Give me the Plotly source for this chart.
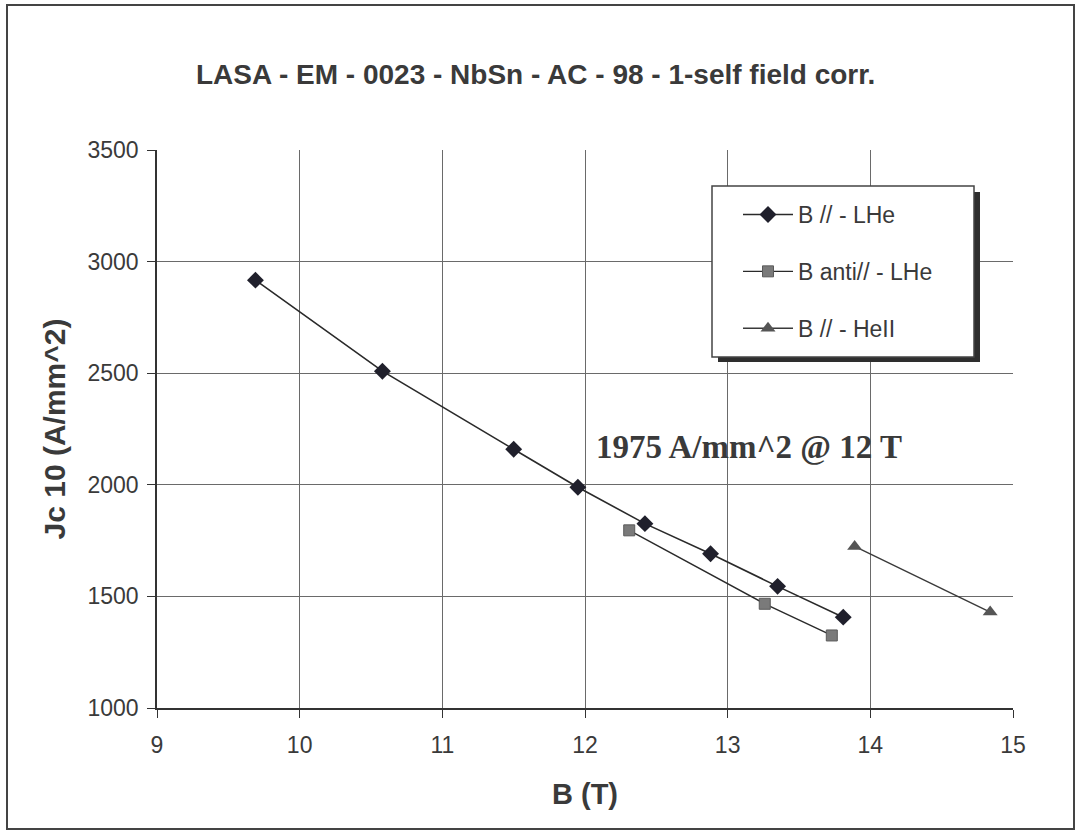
import plotly.graph_objects as go

# Critical current density vs applied field
b_par_lhe = [9.69, 10.58, 11.50, 11.95, 12.42, 12.88, 13.35, 13.81]
jc_par_lhe = [2917, 2509, 2159, 1989, 1826, 1691, 1545, 1407]

b_anti_lhe = [12.31, 13.26, 13.73]
jc_anti_lhe = [1796, 1467, 1325]

b_par_heii = [13.89, 14.84]
jc_par_heii = [1724, 1430]

x_ticks = [9, 10, 11, 12, 13, 14, 15]
y_ticks = [1000, 1500, 2000, 2500, 3000, 3500]

W, H = 1077, 836
L, R, T, B = 157, 64, 150, 128
pw, ph = W - L - R, H - T - B


def px(x):
    return (x - L) / pw


def py(y):
    return (H - B - y) / ph


SANS = "Liberation Sans, Arial, sans-serif"
INK = "#3a3a3a"

fig = go.Figure()
fig.add_trace(go.Scatter(
    x=b_par_lhe, y=jc_par_lhe, mode="lines+markers", name="B // - LHe",
    legendgroup="a",
    line=dict(color="#2a2a2a", width=1.6),
    marker=dict(symbol="diamond", size=13, color="#20202c"),
))
fig.add_trace(go.Scatter(
    x=b_anti_lhe, y=jc_anti_lhe, mode="lines+markers", name="B anti// - LHe",
    legendgroup="b",
    line=dict(color="#2a2a2a", width=1.4),
    marker=dict(symbol="square", size=11, color="#7a7a7a",
                line=dict(color="#5a5a5a", width=1)),
))
fig.add_trace(go.Scatter(
    x=b_par_heii, y=jc_par_heii, mode="lines+markers", name="B // - HeII",
    legendgroup="c",
    line=dict(color="#3a3a3a", width=1.4),
    marker=dict(symbol="triangle-up", size=13, color="#555555"),
))

axis_font = dict(family=SANS, size=23, color=INK)

fig.update_xaxes(
    range=[9, 15], tickvals=x_ticks, showgrid=True, gridcolor="#6a6a6a", gridwidth=1,
    zeroline=False, showline=True, linecolor="#333333", linewidth=1.5,
    ticks="outside", ticklen=8, tickcolor="#333333", tickfont=axis_font,
    ticklabelstandoff=8,
    title=dict(text="<b>B (T)</b>", font=dict(family=SANS, size=29, color=INK), standoff=26),
)
fig.update_yaxes(
    range=[1000, 3500], tickvals=y_ticks, showgrid=True, gridcolor="#6a6a6a", gridwidth=1,
    zeroline=False, showline=True, linecolor="#333333", linewidth=1.5,
    ticks="outside", ticklen=8, tickcolor="#333333", tickfont=axis_font,
    ticklabelstandoff=4,
    title=dict(text="<b>Jc 10 (A/mm^2)</b>", font=dict(family=SANS, size=30, color=INK), standoff=13),
)

shapes = [
    # outer frame
    dict(type="rect", xref="paper", yref="paper", x0=px(7), x1=px(1074), y0=py(829), y1=py(5),
         line=dict(color="#444444", width=2), fillcolor="rgba(0,0,0,0)", layer="below"),
    # legend drop shadow
    dict(type="rect", xref="paper", yref="paper", x0=px(718), x1=px(980), y0=py(362), y1=py(192),
         line=dict(width=0), fillcolor="#2e2e2e", layer="above"),
    # legend box
    dict(type="rect", xref="paper", yref="paper", x0=px(712), x1=px(974), y0=py(357), y1=py(186),
         line=dict(color="#444444", width=1.5), fillcolor="white", layer="above"),
]

annotations = [
    dict(text="<b>LASA - EM - 0023 - NbSn - AC - 98 - 1-self field corr.</b>",
         xref="paper", yref="paper", x=px(535), y=py(75), yanchor="middle", showarrow=False,
         font=dict(family=SANS, size=28, color=INK)),
    dict(text="<b>1975 A/mm^2 @ 12 T</b>", xref="paper", yref="paper",
         x=px(594), y=py(447), xanchor="left", yanchor="middle", showarrow=False,
         font=dict(family="Liberation Serif, Times New Roman, serif", size=33, color=INK)),
]

fig.update_layout(
    width=W, height=H, margin=dict(l=L, r=R, t=T, b=B, autoexpand=False),
    paper_bgcolor="white", plot_bgcolor="white",
    showlegend=True,
    legend=dict(x=px(738), y=py(193), xanchor="left", yanchor="top",
                bgcolor="rgba(0,0,0,0)", borderwidth=0,
                font=dict(family=SANS, size=23, color=INK),
                tracegroupgap=24, itemwidth=50),
    shapes=shapes, annotations=annotations,
)

fig.write_html("out.html")
